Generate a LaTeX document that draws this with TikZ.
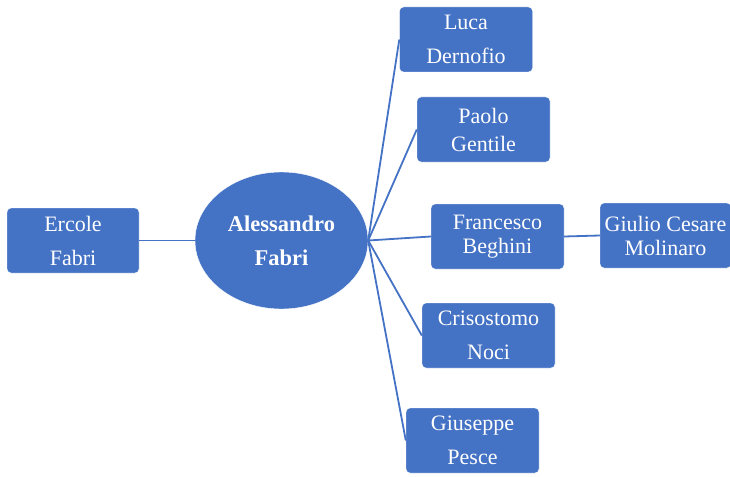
\documentclass[tikz,border=0pt]{standalone}
\usepackage{fontspec}
\setmainfont{Liberation Serif}
\usepackage{tikz}
\usetikzlibrary{shapes.geometric}
\definecolor{officeblue}{HTML}{4472C4}
\tikzset{
nameboxv1/.style={rectangle, rounded corners=4pt, draw=white, fill=officeblue, thin, text=white, inner sep=0pt, minimum width= 133pt, minimum height= 65pt, align=center, font=\fontsize{22}{34}\selectfont},
nameboxv2/.style={nameboxv1, font=\fontsize{22}{24}\selectfont},
nameboxv3/.style={nameboxv1, font=\fontsize{22}{28}\selectfont},
ellipsenodev1/.style={ellipse, draw=white, fill=officeblue, thin, text=white, inner sep=0pt, minimum width= 173pt, minimum height = 137pt, align=center, font=\bfseries\fontsize{22.5}{34}\selectfont},
linkline/.style={draw=officeblue, line width=1.8pt},
}

\begin{document}
\begin{tikzpicture}[x=1pt,y=-1pt]
\useasboundingbox (0,0) rectangle (730,476);
\node[ellipsenodev1] at (281.5,240.5) (alessandro) {Alessandro\\Fabri};
\node[nameboxv1, minimum width=132pt] at (73,240.5) (ercole) {Ercole\\Fabri};
\node[nameboxv1] at (466,39.5) (luca) {Luca\\Dernofio};
\node[nameboxv3] at (483.5,129.5) (paolo) {Paolo\\Gentile};
\node[nameboxv2] at (497.5,236.5) (francesco) {Francesco\\Beghini};
\node[nameboxv2, minimum width=131pt] at (665.5,235.5) (giulio) {Giulio Cesare\\Molinaro};
\node[nameboxv1] at (488.5,335.5) (crisostomo) {Crisostomo\\Noci};
\node[nameboxv1] at (472.5,440.5) (giuseppe) {Giuseppe\\Pesce};
\draw[linkline] (ercole.east) -- (alessandro.west);
\draw[linkline] (alessandro.east) -- (luca.west);
\draw[linkline] (alessandro.east) -- (paolo.west);
\draw[linkline] (alessandro.east) -- (francesco.west);
\draw[linkline] (alessandro.east) -- (crisostomo.west);
\draw[linkline] (alessandro.east) -- (giuseppe.west);
\draw[linkline] (francesco.east) -- (giulio.west);
\end{tikzpicture}
\end{document}
